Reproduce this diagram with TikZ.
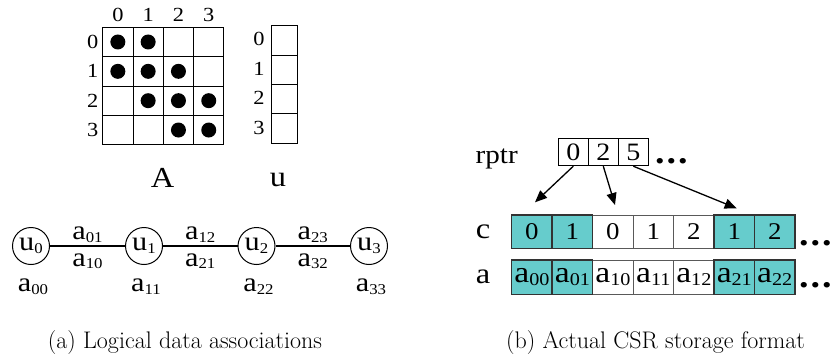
\documentclass[tikz,border=0pt]{standalone}
\usepackage{fontspec}
\usepackage{tikz}
\usetikzlibrary{arrows.meta}
\newfontfamily\tnr[FakeStretch=1.12]{Liberation Serif}
\definecolor{mycyan}{HTML}{66CCCC}
\definecolor{darkgray}{HTML}{333333}
\newcommand{\ael}[2][15]{a\raisebox{-0.2ex}{\fontsize{#1}{#1}\selectfont #2}}
\newcommand{\uel}[1]{u\raisebox{-0.2ex}{\fontsize{15}{15}\selectfont #1}}

\begin{document}
\begin{tikzpicture}[
  x=1pt, y=-1pt,
  txt/.style={font=\tnr\fontsize{#1}{#1}\selectfont, inner sep=0pt},
  mcell/.style={draw, line width=1pt, minimum width=30.3pt, minimum height=29.35pt, inner sep=0pt},
  vcell/.style={draw, line width=1pt, minimum width=26.4pt, minimum height=29.4pt, inner sep=0pt},
  dotnode/.style={circle, fill=black, minimum size=15pt, inner sep=0pt},
  vert/.style={circle, draw, line width=1pt, minimum size=37pt, inner sep=0pt, txt=27},
  edgeline/.style={line width=1.6pt},
  rcell/.style={draw, line width=1pt, minimum width=30pt, minimum height=27.4pt, inner sep=0pt, txt=25},
  ccell/.style={draw=black!65, line width=1pt, minimum width=40.47pt, minimum height=33.3pt, inner sep=0pt, txt=24},
  acell/.style={ccell, minimum height=34.3pt, txt=30},
  hl/.style={fill=mycyan, draw=darkgray, line width=1.5pt},
  arr/.style={-{Triangle[length=12pt, width=10pt]}, line width=1.3pt},
  caption/.style={inner sep=0pt, font=\fontsize{24}{24}\selectfont\addfontfeatures{FakeStretch=1.16}},
]
\useasboundingbox (0,0) rectangle (833,362);

%% Matrix A
\foreach \i in {0,...,3}
  \foreach \j in {0,...,3}
    \node[mcell] (m\i\j) at ({117.85+30.3*\j},{41.98+29.35*\i}) {};
\foreach \i/\j in {0/0,0/1,1/0,1/1,1/2,2/1,2/2,2/3,3/2,3/3}
  \node[dotnode] (d\i\j) at (m\i\j) {};
\foreach \j in {0,...,3}
  \node[txt=20] (col\j) at ({117.85+30.3*\j},15) {\j};
\foreach \i in {0,...,3}
  \node[txt=20] (row\i) at (92.7,{41.98+29.35*\i}) {\i};
\node[txt=29] (mA) at (162.7,177.5) {A};

%% Vector u
\foreach \i in {0,...,3} {
  \node[vcell] (v\i) at (284.5,{40.4+29.4*\i}) {};
  \node[txt=20] (vl\i) at (259,{39.4+29.4*\i}) {\i};
}
\node[txt=29] (vu) at (278,180) {u};

%% Graph
\node[vert] (u0) at (31,246) {\uel{0}};
\node[vert] (u1) at (144,246) {\uel{1}};
\node[vert] (u2) at (256.5,246) {\uel{2}};
\node[vert] (u3) at (369,246) {\uel{3}};

\draw[edgeline] (u0) -- (u1)
  node[midway, above=3pt, txt=27] {\ael{01}}
  node[midway, below=7pt, txt=27] {\ael{10}};
\draw[edgeline] (u1) -- (u2)
  node[midway, above=3pt, txt=27] {\ael{12}}
  node[midway, below=7pt, txt=27] {\ael{21}};
\draw[edgeline] (u2) -- (u3)
  node[midway, above=3pt, txt=27] {\ael{23}}
  node[midway, below=7pt, txt=27] {\ael{32}};

\node[txt=27] (a00) at (33,286.5) {\ael{00}};
\node[txt=27] (a11) at (146,286.5) {\ael{11}};
\node[txt=27] (a22) at (258.5,286.5) {\ael{22}};
\node[txt=27] (a33) at (371,286.5) {\ael{33}};

%% rptr
\node[txt=26, anchor=base] (rptr) at (496.7,163.3) {rptr};
\node[rcell] (r0) at (573.3,152) {0};
\node[rcell] (r1) at (603.3,152) {2};
\node[rcell] (r2) at (633.3,152) {5};
\node[txt=34, anchor=base west] (rdots) at (655,163.3) {\textbf{.\kern2pt.\kern2pt.}};

%% c and a arrays
\node[txt=29] (clbl) at (483,231.7) {c};
\node[txt=29] (albl) at (483,276.7) {a};
\foreach \k/\c/\s in {2/0/10,3/1/11,4/2/12} {
  \node[ccell] (c\k) at ({531.93+40.47*\k},231.7) {\c};
  \node[acell] (a\k) at ({531.93+40.47*\k},277.2) {\ael[18]{\s}};
}
\foreach \k/\c/\s in {0/0/00,1/1/01,5/1/21,6/2/22} {
  \node[ccell, hl] (c\k) at ({531.93+40.47*\k},231.7) {\c};
  \node[acell, hl] (a\k) at ({531.93+40.47*\k},277.2) {\ael[18]{\s}};
}
\node[txt=34, anchor=base west] (cdots) at (799,245) {\textbf{.\kern2pt.\kern2pt.}};
\node[txt=34, anchor=base west] (adots) at (799,287) {\textbf{.\kern2pt.\kern2pt.}};

%% Arrows
\coordinate (t0) at (535,202.3);
\coordinate (t1) at (615,205);
\coordinate (t2) at (736.7,208.3);
\draw[arr] (r0.south) -- (t0);
\draw[arr] (r1.south) -- (t1);
\draw[arr] (r2.south) -- (t2);

%% Captions
\node[caption] (capa) at (185,342.5) {(a) Logical data associations};
\node[caption] (capb) at (655.5,342.5) {(b) Actual CSR storage format};

\end{tikzpicture}
\end{document}
